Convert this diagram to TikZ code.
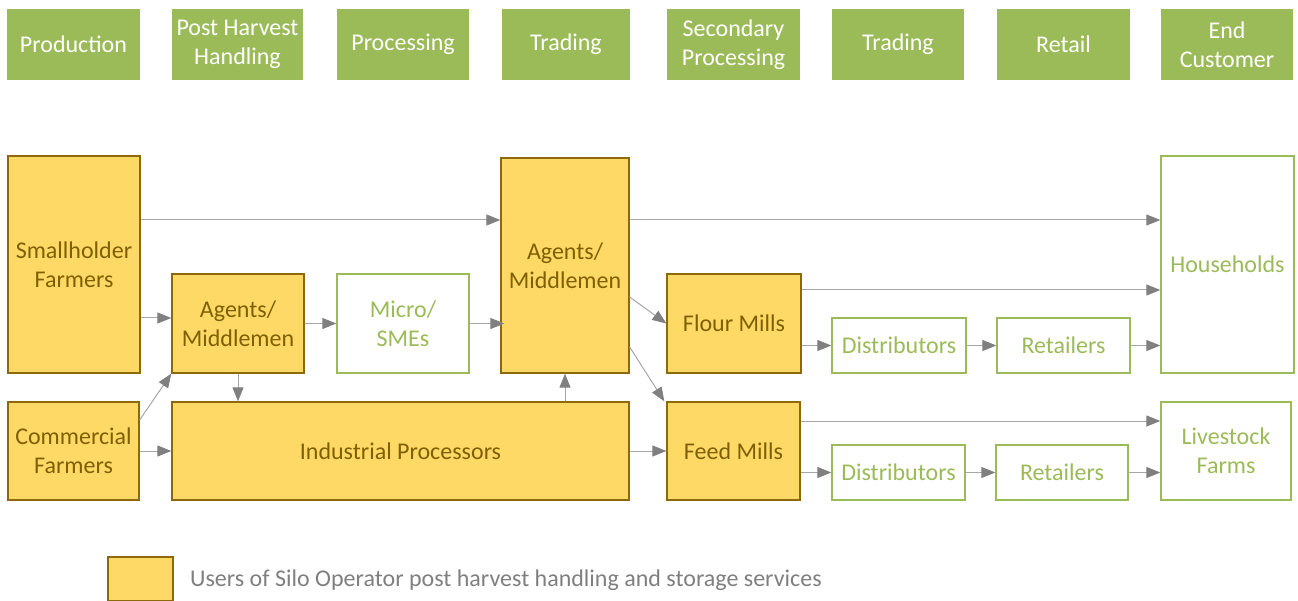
\documentclass[tikz,border=0pt]{standalone}
\usepackage{fontspec}
\setmainfont{Carlito}
\usetikzlibrary{arrows.meta}
\definecolor{hdrgreen}{HTML}{9BBB59}
\definecolor{yfill}{HTML}{FFD966}
\definecolor{ydraw}{HTML}{8C6A0C}
\definecolor{ytext}{HTML}{7F6000}
\definecolor{arrline}{HTML}{A6A6A6}
\definecolor{arrhead}{HTML}{808080}
\definecolor{legtext}{HTML}{7F7F7F}
\begin{document}
\begin{tikzpicture}[x=1pt,y=-1pt,
  every node/.style={inner sep=0pt, align=center, font=\fontsize{24}{29}\selectfont},
  hdr/.style={fill=hdrgreen, draw=none, text=white},
  ybox/.style={fill=yfill, draw=ydraw, line width=1.3pt, text=ytext},
  gbox/.style={fill=white, draw=hdrgreen, line width=1.3pt, text=hdrgreen},
  arr/.style={draw=arrline, line width=1pt, -{Triangle[length=14pt,width=11pt,fill=arrhead,color=arrhead]}}
]
\useasboundingbox (0,0) rectangle (1298,601);

% header row
\node[hdr, minimum width=133pt, minimum height=71pt] (h1) at (73.5,44.5) {Production};
\node[hdr, minimum width=131pt, minimum height=71pt] (h2) at (237.5,44.5) {Post Harvest\\Handling};
\node[hdr, minimum width=132pt, minimum height=71pt] (h3) at (403,44.5) {Processing};
\node[hdr, minimum width=128pt, minimum height=71pt] (h4) at (566,44.5) {Trading};
\node[hdr, minimum width=133pt, minimum height=71pt] (h5) at (733.5,44.5) {Secondary\\Processing};
\node[hdr, minimum width=132pt, minimum height=71pt] (h6) at (898,44.5) {Trading};
\node[hdr, minimum width=133pt, minimum height=71pt] (h7) at (1063.5,44.5) {Retail};
\node[hdr, minimum width=132pt, minimum height=71pt] (h8) at (1227,44.5) {End\\Customer};

% main nodes
\node[ybox, minimum width=132pt, minimum height=217pt] (sf) at (74,264.5) {Smallholder\\Farmers};
\node[ybox, minimum width=131pt, minimum height=98pt] (cf) at (73.5,451) {Commercial\\Farmers};
\node[ybox, minimum width=132pt, minimum height=99pt] (am1) at (238,323.5) {Agents/\\Middlemen};
\node[gbox, minimum width=132pt, minimum height=99pt] (ms) at (403,323.5) {Micro/\\SMEs};
\node[ybox, minimum width=457pt, minimum height=98pt] (ip) at (400.5,451) {Industrial Processors};
\node[ybox, minimum width=128pt, minimum height=215pt] (am2) at (565,265.5) {Agents/\\Middlemen};
\node[ybox, minimum width=134pt, minimum height=99pt] (fl) at (734,323.5) {Flour Mills};
\node[ybox, minimum width=133pt, minimum height=98pt] (fe) at (733.5,451) {Feed Mills};
\node[gbox, minimum width=134pt, minimum height=55pt] (d1) at (899,345.5) {Distributors};
\node[gbox, minimum width=133pt, minimum height=55pt] (r1) at (1063.5,345.5) {Retailers};
\node[gbox, minimum width=133pt, minimum height=55pt] (d2) at (898.5,472.5) {Distributors};
\node[gbox, minimum width=132pt, minimum height=55pt] (r2) at (1062,472.5) {Retailers};
\node[gbox, minimum width=133pt, minimum height=217pt] (hh) at (1227.5,264.5) {Households};
\node[gbox, minimum width=130pt, minimum height=98pt] (lf) at (1226,451) {Livestock\\Farms};

% legend
\node[ybox, minimum width=65pt, minimum height=44pt] (lg) at (140.5,579) {};
\node[anchor=west, text=legtext] (lgt) at (190,580) {Users of Silo Operator post harvest handling and storage services};

% connectors
\draw[arr] ([yshift=44.5pt]sf.east) -- ([yshift=44.5pt]sf.east -| am2.west);
\draw[arr] ([yshift=-53.5pt]sf.east) -- ([yshift=-53.5pt]sf.east -| am1.west);
\draw[arr] ([yshift=31pt]cf.east) -- (am1.south west);
\draw[arr] (cf.east) -- (cf.east -| ip.west);
\draw[arr] (am1.south) -- (am1.south |- ip.north);
\draw[arr] (am1.east) -- (ms.west);
\draw[arr] (ms.east) -- ([xshift=4pt]ms.east -| am2.west);
\draw[arr] (am2.south |- ip.north) -- (am2.south);
\draw[arr] ([yshift=45.5pt]am2.east) -- ([yshift=45.5pt]am2.east -| hh.west);
\draw[arr] ([yshift=-31.5pt]am2.east) -- (fl.west);
\draw[arr] ([yshift=-81.5pt]am2.east) -- ([xshift=-2pt]fe.north west);
\draw[arr] (ip.east) -- (fe.west);
\draw[arr] ([yshift=33.5pt]fl.east) -- ([yshift=33.5pt]fl.east -| hh.west);
\draw[arr] (fl.east |- d1.west) -- (d1.west);
\draw[arr] (d1.east) -- (r1.west);
\draw[arr] (r1.east) -- (r1.east -| hh.west);
\draw[arr] ([yshift=30pt]fe.east) -- ([yshift=30pt]fe.east -| lf.west);
\draw[arr] (fe.east |- d2.west) -- (d2.west);
\draw[arr] (d2.east) -- (r2.west);
\draw[arr] (r2.east) -- (r2.east -| lf.west);
\end{tikzpicture}
\end{document}
